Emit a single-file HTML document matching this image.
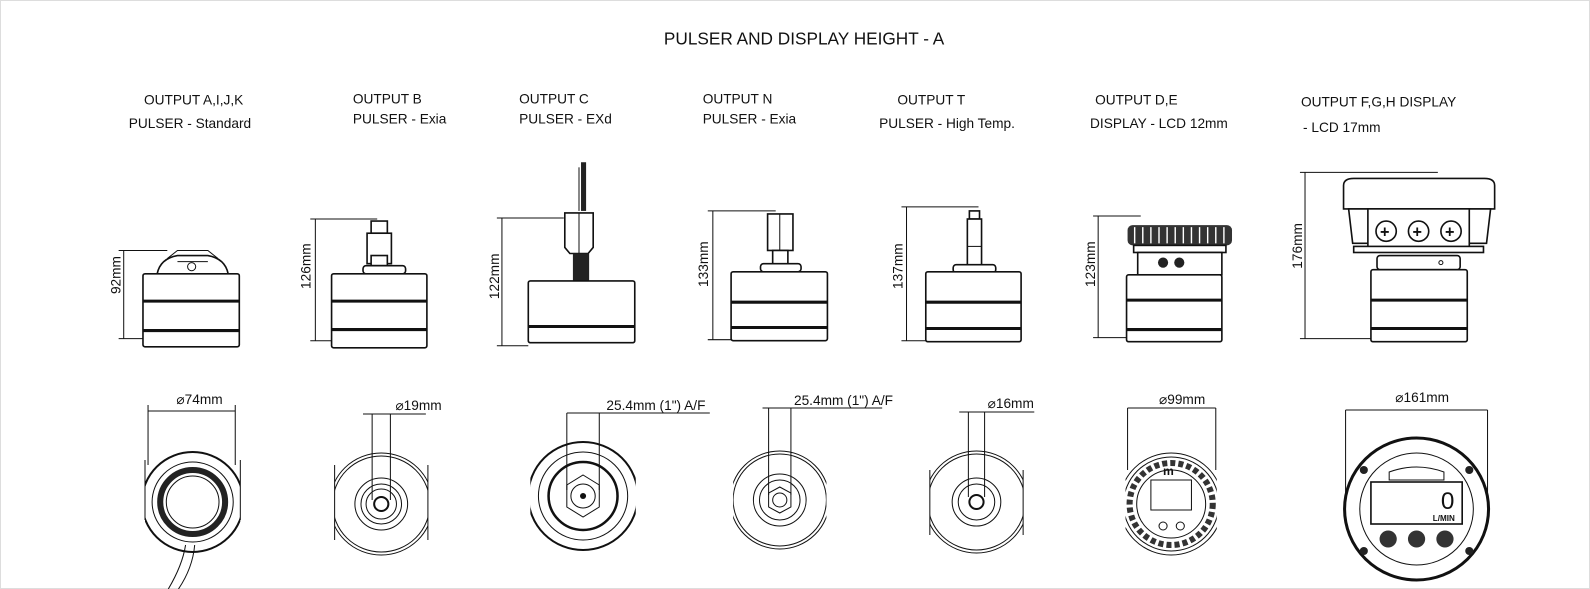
<!DOCTYPE html>
<html><head><meta charset="utf-8"><style>
html,body{margin:0;padding:0;background:#fff}
svg{display:block}
text{font-family:"Liberation Sans",sans-serif;fill:#111}
.l{stroke:#111;stroke-width:1;fill:none}
.b{stroke:#111;stroke-width:1.6;fill:#fff}
.s{stroke:#111;stroke-width:3}
</style></head><body>
<svg width="1590" height="589" viewBox="0 0 1590 589" xmlns="http://www.w3.org/2000/svg">
<rect x="0.5" y="0.5" width="1589" height="588" fill="#fff" stroke="#ddd"/>
<g transform="scale(1.014)">
<text x="793" y="44" font-size="17" text-anchor="middle">PULSER AND DISPLAY HEIGHT - A</text>
<g font-size="13.5">
<text x="142" y="103">OUTPUT A,I,J,K</text><text x="127" y="126">PULSER - Standard</text>
<text x="348" y="102">OUTPUT B</text><text x="348" y="122">PULSER - Exia</text>
<text x="512" y="102">OUTPUT C</text><text x="512" y="122">PULSER - EXd</text>
<text x="693" y="102">OUTPUT N</text><text x="693" y="122">PULSER - Exia</text>
<text x="885" y="103">OUTPUT T</text><text x="867" y="126">PULSER - High Temp.</text>
<text x="1080" y="103">OUTPUT D,E</text><text x="1075" y="126">DISPLAY - LCD 12mm</text>
<text x="1283" y="105">OUTPUT F,G,H DISPLAY</text><text x="1285" y="130">- LCD 17mm</text>
</g>

<!-- side views -->
<g>
<path class="b" d="M155 270 Q158 255 175 252 L205 252 Q222 255 225 270 Z"/>
<path class="l" d="M165 255 l10 -8 h30 l10 8 M175 258 h30"/>
<circle class="l" cx="189" cy="263" r="4"/>
<rect class="b" x="141" y="270" width="95" height="72" rx="2"/>
<line class="s" x1="141" y1="297" x2="236" y2="297"/><line class="s" x1="141" y1="326" x2="236" y2="326"/>
<path class="l" d="M122 247 V334 M117 247 H165 M117 334 H141"/>
<text transform="translate(119,290) rotate(-90)" font-size="13.5">92mm</text>

<rect class="b" x="366" y="218" width="16" height="12"/><rect class="b" x="362" y="230" width="24" height="30"/><rect class="b" x="366" y="252" width="16" height="10"/>
<rect class="b" x="358" y="262" width="42" height="8" rx="3"/>
<rect class="b" x="327" y="270" width="94" height="73" rx="2"/>
<line class="s" x1="327" y1="297" x2="421" y2="297"/><line class="s" x1="327" y1="325" x2="421" y2="325"/>
<path class="l" d="M311 216 V336 M306 216 H372 M306 336 H327"/>
<text transform="translate(306,285) rotate(-90)" font-size="13.5">126mm</text>

<rect x="573" y="160" width="5" height="48" fill="#222"/><line class="l" x1="571" y1="165" x2="571" y2="208"/>
<path class="b" d="M557 210 H585 V244 L580 250 H562 L557 244 Z"/><line class="l" x1="571" y1="210" x2="571" y2="250"/>
<rect x="565" y="250" width="16" height="27" fill="#222"/>
<rect class="b" x="521" y="277" width="105" height="61" rx="2"/>
<line class="s" x1="521" y1="322" x2="626" y2="322"/>
<path class="l" d="M495 215 V341 M490 215 H556 M490 341 H521"/>
<text transform="translate(492,295) rotate(-90)" font-size="13.5">122mm</text>

<rect class="b" x="757" y="211" width="25" height="36"/><line class="l" x1="769" y1="211" x2="769" y2="247"/>
<rect class="b" x="762" y="247" width="15" height="14"/>
<rect class="b" x="750" y="260" width="40" height="8" rx="3"/>
<rect class="b" x="721" y="268" width="95" height="68" rx="2"/>
<line class="s" x1="721" y1="298" x2="816" y2="298"/><line class="s" x1="721" y1="323" x2="816" y2="323"/>
<path class="l" d="M703 208 V335 M698 208 H765 M698 335 H721"/>
<text transform="translate(698,283) rotate(-90)" font-size="13.5">133mm</text>

<rect class="b" x="956" y="208" width="10" height="8"/><rect class="b" x="954" y="216" width="14" height="46"/><line class="l" x1="954" y1="243" x2="968" y2="243"/>
<rect class="b" x="940" y="261" width="42" height="8" rx="3"/>
<rect class="b" x="913" y="268" width="94" height="69" rx="2"/>
<line class="s" x1="913" y1="298" x2="1007" y2="298"/><line class="s" x1="913" y1="324" x2="1007" y2="324"/>
<path class="l" d="M894 204 V336 M889 204 H965 M889 336 H913"/>
<text transform="translate(890,285) rotate(-90)" font-size="13.5">137mm</text>

<rect x="1112" y="222" width="103" height="20" rx="5" fill="#333"/>
<g stroke="#fff" stroke-width="1.4">
<line x1="1119" y1="224" x2="1119" y2="240"/><line x1="1127" y1="224" x2="1127" y2="240"/><line x1="1135" y1="224" x2="1135" y2="240"/><line x1="1143" y1="224" x2="1143" y2="240"/><line x1="1151" y1="224" x2="1151" y2="240"/><line x1="1159" y1="224" x2="1159" y2="240"/><line x1="1167" y1="224" x2="1167" y2="240"/><line x1="1175" y1="224" x2="1175" y2="240"/><line x1="1183" y1="224" x2="1183" y2="240"/><line x1="1191" y1="224" x2="1191" y2="240"/><line x1="1199" y1="224" x2="1199" y2="240"/><line x1="1207" y1="224" x2="1207" y2="240"/></g>
<rect class="b" x="1118" y="242" width="91" height="7"/>
<rect class="b" x="1122" y="249" width="83" height="22"/>
<circle cx="1147" cy="259" r="5" fill="#222"/><circle cx="1163" cy="259" r="5" fill="#222"/>
<rect class="b" x="1111" y="271" width="94" height="66" rx="2"/>
<line class="s" x1="1111" y1="296" x2="1205" y2="296"/><line class="s" x1="1111" y1="325" x2="1205" y2="325"/>
<path class="l" d="M1083 213 V333 M1078 213 H1125 M1078 333 H1111"/>
<text transform="translate(1080,283) rotate(-90)" font-size="13.5">123mm</text>

<path class="b" d="M1325 183 Q1325 176 1335 176 H1464 Q1474 176 1474 183 V206 H1325 Z"/>
<path class="b" d="M1330 206 H1470 L1466 240 H1334 Z"/>
<rect class="b" x="1349" y="206" width="100" height="38"/>
<circle class="b" cx="1367" cy="228" r="10"/><circle class="b" cx="1399" cy="228" r="10"/><circle class="b" cx="1431" cy="228" r="10"/>
<g font-size="16" font-weight="bold"><text x="1361" y="234">+</text><text x="1393" y="234">+</text><text x="1425" y="234">+</text></g>
<rect class="b" x="1335" y="243" width="128" height="6"/>
<rect class="b" x="1358" y="252" width="82" height="14" rx="3"/><circle class="l" cx="1421" cy="259" r="2"/>
<rect class="b" x="1352" y="266" width="95" height="71" rx="2"/>
<line class="s" x1="1352" y1="296" x2="1447" y2="296"/><line class="s" x1="1352" y1="324" x2="1447" y2="324"/>
<path class="l" d="M1287 170 V334 M1282 170 H1418 M1282 334 H1352"/>
<text transform="translate(1284,265) rotate(-90)" font-size="13.5">176mm</text>
</g>
</g>

<defs>
<clipPath id="cA"><rect x="143" y="400" width="94" height="200"/></clipPath>
<clipPath id="cB"><rect x="330" y="400" width="92" height="200"/></clipPath>
<clipPath id="cC"><rect x="523" y="400" width="104" height="200"/></clipPath>
<clipPath id="cN"><rect x="723" y="400" width="92" height="200"/></clipPath>
<clipPath id="cT"><rect x="917" y="400" width="92" height="200"/></clipPath>
<clipPath id="cD"><rect x="1110" y="400" width="90" height="200"/></clipPath>
</defs>
<g font-size="13.5" transform="matrix(1.014,0,0,1,0,0)">
<g clip-path="url(#cA)"><circle cx="190" cy="502" r="50" fill="none" stroke="#111" stroke-width="2"/></g>
<path class="l" d="M143 460 V520 M237 460 V520"/>
<circle class="l" cx="190" cy="502" r="40"/>
<circle cx="190" cy="502" r="32" fill="none" stroke="#222" stroke-width="6"/>
<circle class="l" cx="190" cy="502" r="26"/>
<path class="l" d="M183 545 Q180 565 166 589 M192 545 Q190 568 176 589"/>
<path class="l" d="M146 405 V465 M232 405 V465 M146 411 H232"/><text x="174" y="404">⌀74mm</text>

<g clip-path="url(#cB)"><circle class="l" cx="376" cy="504" r="51"/><circle class="l" cx="376" cy="504" r="48"/></g>
<path class="l" d="M330 465 V540 M422 465 V540"/>
<circle class="l" cx="376" cy="504" r="26"/><circle class="l" cx="376" cy="504" r="20"/><circle class="l" cx="376" cy="504" r="15"/><circle cx="376" cy="504" r="7" fill="#fff" stroke="#111" stroke-width="2"/>
<path class="l" d="M367 414 V500 M385 414 V500 M358 414 H420"/><text x="390" y="410">⌀19mm</text>

<g clip-path="url(#cC)"><circle cx="575" cy="496" r="54" fill="none" stroke="#111" stroke-width="2"/></g>
<circle class="l" cx="575" cy="496" r="44"/><circle cx="575" cy="496" r="34" fill="none" stroke="#111" stroke-width="2.5"/>
<path class="l" d="M575 475 L591 485 V507 L575 517 L559 507 V485 Z"/><circle class="l" cx="575" cy="496" r="12"/><circle cx="575" cy="496" r="3" fill="#111"/>
<path class="l" d="M559 413 V490 M591 413 V490 M559 413 H700"/><text x="598" y="410">25.4mm (1") A/F</text>

<g clip-path="url(#cN)"><circle class="l" cx="769" cy="500" r="49"/><circle class="l" cx="769" cy="500" r="46"/></g>
<circle class="l" cx="769" cy="500" r="26"/><circle class="l" cx="769" cy="500" r="20"/>
<path class="l" d="M769 487 L780 493 V507 L769 513 L758 507 V493 Z"/><circle class="l" cx="769" cy="500" r="7"/>
<path class="l" d="M758 408 V495 M780 408 V495 M752 408 H870"/><text x="783" y="405">25.4mm (1") A/F</text>

<g clip-path="url(#cT)"><circle class="l" cx="963" cy="502" r="51"/><circle class="l" cx="963" cy="502" r="48"/></g>
<path class="l" d="M917 470 V535 M1009 470 V535"/>
<circle class="l" cx="963" cy="502" r="24"/><circle class="l" cx="963" cy="502" r="18"/><circle cx="963" cy="502" r="7" fill="#fff" stroke="#111" stroke-width="2"/>
<path class="l" d="M955 412 V497 M971 412 V497 M946 412 H1020"/><text x="974" y="408">⌀16mm</text>

<g clip-path="url(#cD)"><circle class="l" cx="1155" cy="504" r="51"/><circle class="l" cx="1155" cy="504" r="47"/></g>
<circle cx="1155" cy="504" r="41" fill="none" stroke="#333" stroke-width="6" stroke-dasharray="5 3"/>
<circle class="l" cx="1155" cy="504" r="34"/>
<rect class="l" x="1135" y="480" width="40" height="30"/>
<text x="1147" y="475" font-size="12" font-weight="bold">m</text>
<circle class="l" cx="1147" cy="526" r="4"/><circle class="l" cx="1164" cy="526" r="4"/>
<path class="l" d="M1112 408 V470 M1199 408 V470 M1112 408 H1199"/><text x="1143" y="404">⌀99mm</text>

<circle cx="1397" cy="509" r="71" fill="none" stroke="#111" stroke-width="3"/>
<circle class="l" cx="1397" cy="509" r="56"/>
<circle cx="1345" cy="470" r="4" fill="#222"/><circle cx="1449" cy="470" r="4" fill="#222"/><circle cx="1345" cy="551" r="4" fill="#222"/><circle cx="1449" cy="551" r="4" fill="#222"/>
<path class="l" d="M1370 472 Q1397 462 1424 472 V480 H1370 Z"/>
<rect class="b" x="1352" y="482" width="90" height="42" stroke-width="2"/>
<text x="1421" y="509" font-size="24">0</text><text x="1413" y="521" font-size="8" font-weight="bold">L/MIN</text>
<circle cx="1369" cy="539" r="8.5" fill="#333"/><circle cx="1397" cy="539" r="8.5" fill="#333"/><circle cx="1425" cy="539" r="8.5" fill="#333"/>
<path class="l" d="M1327 410 V500 M1467 410 V500 M1327 410 H1467"/><text x="1376" y="402">⌀161mm</text>
</g>
</svg>
</body></html>
